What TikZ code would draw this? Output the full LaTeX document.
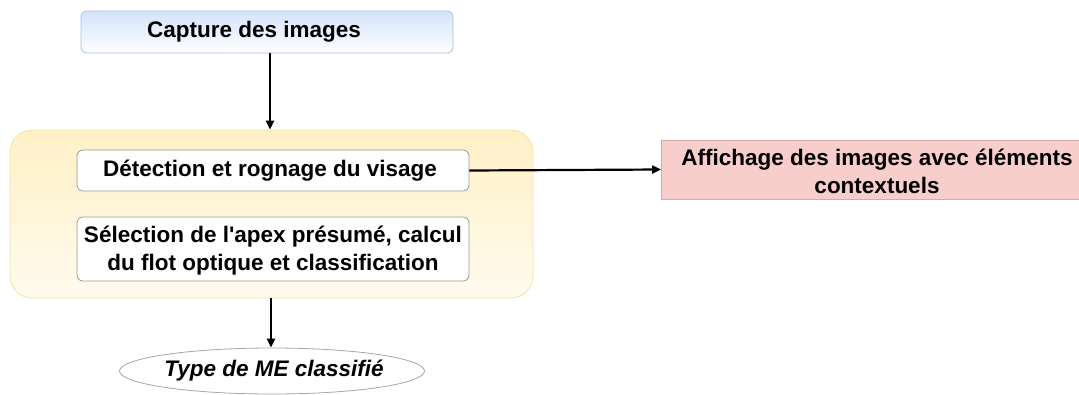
\documentclass[tikz,border=0pt]{standalone}
\usepackage{fontspec}
\setmainfont{Liberation Sans}
\usetikzlibrary{shapes.geometric,arrows.meta}
\definecolor{capblue}{HTML}{D4E3FA}
\definecolor{capborder}{HTML}{A9BEDC}
\definecolor{grpyellow}{HTML}{FFF0C6}
\definecolor{grpborder}{HTML}{F2E3A6}
\definecolor{affred}{HTML}{F8CECC}
\definecolor{affborder}{HTML}{D9A9A7}
\tikzset{
  lbl/.style={font=\fontsize{22.5}{28}\selectfont\bfseries, align=center, text=black, inner sep=0pt},
  stepbox/.style={draw=gray!80, line width=0.8pt, fill=white, rounded corners=6pt, minimum width=392pt, inner sep=0pt},
  arr/.style={draw=black, line width=2.2pt, -{Triangle[length=9pt,width=8pt]}},
}
\begin{document}
\begin{tikzpicture}[x=1pt,y=-1pt]
\useasboundingbox (0,0) rectangle (1079,394);
% capture box
\node[draw=capborder, line width=0.8pt, rounded corners=6pt, top color=capblue, bottom color=white,
      minimum width=372pt, minimum height=42pt, inner sep=0pt] (cap) at (267,32) {};
\node[lbl] at (254,32) {Capture des images};
% group container
\node[draw=grpborder, line width=0.8pt, rounded corners=22pt, top color=grpyellow, bottom color=white!70!grpyellow,
      minimum width=523pt, minimum height=168pt, inner sep=0pt] (grp) at (271.5,214) {};
% detection
\node[stepbox, minimum height=41pt] (det) at (273,170.5) {};
\node[lbl] at (270,171) {Détection et rognage du visage};
% selection
\node[stepbox, minimum height=64pt] (sel) at (273,249) {};
\node[lbl] at (273,251) {Sélection de l\textquotesingle apex présumé, calcul\\du flot optique et classification};
% affichage
\node[draw=affborder, line width=0.8pt, fill=affred, minimum width=418pt, minimum height=59pt, inner sep=0pt] (aff) at (870.5,169.5) {};
\node[lbl] at (877,171) {Affichage des images avec éléments\\contextuels};
% result ellipse
\node[ellipse, draw=gray!70, line width=0.8pt, fill=white, minimum width=305pt, minimum height=46pt, inner sep=0pt] (res) at (272,371) {};
\node[lbl, font=\fontsize{22.5}{25.5}\selectfont\bfseries\itshape] at (274,371) {Type de ME classifié};
% connectors
\draw[arr] (cap.south -| 270,0) -- (grp.north -| 270,0);
\draw[arr] (det.east) -- (aff.west);
\draw[arr] (grp.south -| 271,0) -- (res.north -| 271,0);
\end{tikzpicture}
\end{document}
